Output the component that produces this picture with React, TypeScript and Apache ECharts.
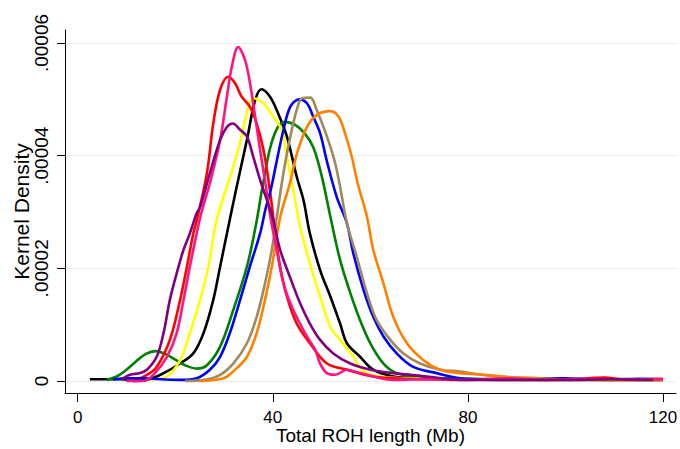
import React, { useEffect, useRef } from "react";
import * as echarts from "echarts";

// x = Total ROH length (Mb), y = kernel density in units of 1e-5
const greenCurve = [[6,0.02],[8,0.08],[10,0.2],[12,0.35],[14,0.48],[15.9,0.53],[18,0.48],[20,0.38],[22,0.28],[24.4,0.22],[26.5,0.28],[29.2,0.61],[31.9,1.26],[34.7,2.03],[36.5,2.75],[38,3.5],[39.5,4.15],[41,4.5],[42.5,4.6],[44.5,4.55],[46.5,4.4],[48.3,4.15],[50,3.65],[51.8,2.92],[53.8,2.15],[55.9,1.56],[57.9,1.08],[60,0.67],[62.7,0.31],[65.4,0.14],[70,0.07],[80,0.04],[90,0.03],[100,0.03],[110,0.02],[120,0.02]];
const blackCurve = [[2.5,0.03],[6,0.03],[9,0.03],[12,0.0],[14,0.02],[16.2,0.08],[18.5,0.18],[21,0.31],[23.7,0.49],[25.8,0.85],[27.8,1.44],[29.2,2.03],[30.6,2.62],[32.6,3.45],[34.7,4.28],[36.4,4.99],[37.7,5.18],[39.4,5.05],[41.1,4.75],[42.9,4.34],[44.9,3.63],[46.3,3.21],[47.6,2.62],[49.7,1.97],[51.8,1.5],[53.8,1.02],[55.2,0.67],[57.9,0.43],[60.6,0.2],[64.7,0.08],[70,0.05],[80,0.03],[90,0.02],[100,0.02],[110,0.02],[120,0.02]];
const yellowCurve = [[15,0.02],[18.3,0.08],[21,0.37],[23,0.85],[25.1,1.44],[26.8,2.03],[27.8,2.55],[28.5,2.86],[29.9,3.27],[31.9,3.8],[33.6,4.34],[35,4.87],[36,5.02],[38.1,4.93],[40.1,4.69],[41.8,4.46],[42.9,3.98],[44.2,3.39],[45.6,2.74],[47.6,2.09],[49.7,1.5],[51.8,0.96],[53.8,0.73],[56.5,0.43],[58.6,0.17],[62,0.08],[70,0.04],[80,0.03],[90,0.02],[100,0.02],[110,0.02],[120,0.02]];
const redCurve = [[10,0.02],[11.4,0.02],[14,0.1],[16.2,0.25],[18.9,0.73],[21,1.44],[22.4,2.03],[23.7,2.62],[24.4,2.85],[26.5,3.69],[27.8,4.57],[29.2,5.17],[30.9,5.4],[32.3,5.28],[33.6,5.05],[35.3,4.87],[36.7,4.57],[38.1,4.1],[39.4,3.39],[40.5,2.62],[41.5,2.03],[42.9,1.5],[44.9,1.02],[47.6,0.67],[51.1,0.31],[55.2,0.2],[60.6,0.08],[65,0.05],[70,0.03],[80,0.03],[90,0.04],[100,0.03],[108,0.06],[112,0.03],[120,0.04]];
const blueCurve = [[7.3,0.03],[10,0.05],[14,0.05],[17,0.03],[21,0.02],[24.4,0.05],[27.1,0.2],[29.2,0.43],[31.2,0.85],[33.3,1.44],[35.3,2.03],[37.4,2.62],[38.5,3.05],[39.6,3.4],[40.8,3.9],[42.2,4.46],[43.6,4.87],[45.4,5.0],[47,4.93],[48.3,4.69],[49.7,4.4],[51.1,3.9],[53.1,3.27],[55.2,2.8],[56.5,2.27],[58.6,1.62],[60.6,1.14],[62.7,0.79],[65.4,0.49],[68.8,0.25],[73.6,0.14],[78.4,0.05],[85,0.03],[90,0.04],[95,0.05],[100,0.05],[105,0.03],[110,0.03],[115,0.04],[120,0.03]];
const tanCurve = [[22,0.0],[26,0.02],[29.2,0.11],[31.9,0.31],[34.7,0.67],[36.7,1.14],[38.4,1.73],[39.8,2.33],[40.8,2.9],[42.2,3.7],[43.6,4.34],[44.9,4.81],[46,5.02],[47.7,5.03],[49,4.81],[50.4,4.51],[51.8,4.16],[52.8,3.86],[53.8,3.45],[55.2,2.8],[57.2,2.21],[59.3,1.56],[61.3,1.08],[64.1,0.73],[66.8,0.49],[70.2,0.31],[74.3,0.2],[78.4,0.17],[82,0.12],[86,0.08],[90,0.06],[95,0.05],[100,0.03],[110,0.02],[120,0.02]];
const orangeCurve = [[25,0.0],[29.9,0.05],[31.9,0.17],[34.7,0.43],[36.7,0.85],[38.4,1.44],[39.8,2.03],[41.5,2.9],[43.5,3.51],[45,4.05],[47,4.51],[49,4.72],[51.8,4.79],[53.5,4.69],[54.8,4.4],[56.2,3.98],[57.4,3.51],[59.3,2.92],[60.6,2.33],[62.7,1.73],[64.7,1.14],[67.5,0.67],[70.9,0.37],[74.3,0.2],[78.4,0.14],[82,0.12],[86,0.09],[90,0.06],[95,0.04],[100,0.03],[110,0.02],[120,0.02]];
const pinkCurve = [[10,0.0],[13.3,0.0],[15.5,0.11],[18.3,0.43],[20.3,0.85],[21.7,1.44],[23,2.03],[24.4,2.62],[25.4,3.0],[27.1,3.51],[29.2,4.28],[30.6,5.05],[31.6,5.58],[32.9,5.93],[34.3,5.7],[35.3,5.3],[36.2,4.8],[37.4,4.1],[38.5,3.5],[39.5,2.92],[40.8,2.33],[42.2,1.73],[44.2,1.26],[47,0.79],[48.7,0.55],[49.7,0.31],[51.1,0.14],[52.8,0.11],[55.2,0.2],[57.9,0.14],[60.6,0.08],[64.7,0.02],[70,0.03],[80,0.02],[88,0.05],[95,0.02],[105,0.04],[115,0.02],[120,0.03]];
const purpleCurve = [[9,0.03],[10.7,0.11],[12.8,0.14],[14.2,0.2],[16.2,0.43],[17.6,0.85],[18.9,1.44],[20.3,1.91],[21.7,2.33],[23,2.62],[24.4,2.98],[25.1,3.09],[27.1,3.69],[29.2,4.28],[30.6,4.51],[31.8,4.57],[33.3,4.46],[34.7,4.34],[36,3.98],[37.4,3.57],[38.8,3.21],[40.1,2.86],[41.5,2.33],[43.5,1.85],[45.6,1.38],[47.6,1.02],[49.7,0.73],[52.4,0.49],[55.9,0.31],[60,0.2],[64.7,0.14],[71.6,0.08],[78.4,0.02],[90,0.02],[100,0.02],[110,0.03],[118,0.02]];

const curves = [
  { name: "black", data: blackCurve, color: "#000000" },
  { name: "green", data: greenCurve, color: "#008000" },
  { name: "yellow", data: yellowCurve, color: "#ffff00" },
  { name: "red", data: redCurve, color: "#ff0000" },
  { name: "blue", data: blueCurve, color: "#0000ff" },
  { name: "tan", data: tanCurve, color: "#a08a5c" },
  { name: "orange", data: orangeCurve, color: "#ff8000" },
  { name: "pink", data: pinkCurve, color: "#ff1482" },
  { name: "purple", data: purpleCurve, color: "#800080" },
];

const xTicks = [0, 40, 80, 120];
const yTicks = [0, 0.00002, 0.00004, 0.00006];
const DENSITY_UNIT = 1e-5;

const FONT = "'Liberation Sans', Arial, Helvetica, sans-serif";

export default function App() {
  const ref = useRef<HTMLDivElement>(null);
  useEffect(() => {
    if (!ref.current) return;
    const chart = echarts.init(ref.current, null, { renderer: "svg" });
    chart.setOption({
      animation: false,
      backgroundColor: "#ffffff",
      grid: { left: 65, right: 4, top: 30, bottom: 56, containLabel: false, outerBoundsMode: "none" },
      xAxis: {
        type: "value",
        min: -2.6,
        max: 122.67,
        name: "Total ROH length (Mb)",
        nameLocation: "middle",
        nameMoveOverlap: false,
        nameGap: 33,
        nameTextStyle: { fontFamily: FONT, fontSize: 19, color: "#000" },
        axisLine: { show: true, onZero: false, lineStyle: { color: "#000", width: 1 } },
        axisTick: { show: true, length: 9, customValues: xTicks, lineStyle: { color: "#000" } },
        axisLabel: { customValues: xTicks, margin: 16, fontFamily: FONT, fontSize: 17, color: "#000" },
        splitLine: { show: false },
      },
      yAxis: {
        type: "value",
        min: -0.213 * DENSITY_UNIT,
        max: 6.231 * DENSITY_UNIT,
        name: "Kernel Density",
        nameLocation: "middle",
        nameMoveOverlap: false,
        nameGap: 33,
        nameTextStyle: { fontFamily: FONT, fontSize: 21, color: "#000" },
        axisLine: { show: true, onZero: false, lineStyle: { color: "#000", width: 1 } },
        axisTick: { show: true, length: 8, customValues: yTicks, lineStyle: { color: "#000" } },
        axisLabel: {
          customValues: yTicks,
          rotate: 90,
          margin: 14,
          fontFamily: FONT,
          fontSize: 19,
          color: "#000",
          formatter: (v: number) => (Math.abs(v) < 1e-12 ? "0" : v.toFixed(5).replace(/^0/, "")),
        },
        splitLine: { show: true, lineStyle: { color: "#e4eef0", width: 1 } },
      },
      series: curves.map((c) => ({
        type: "line",
        name: c.name,
        data: c.data.map(([x, y]) => [x, y * DENSITY_UNIT]),
        showSymbol: false,
        smooth: 0.35,
        lineStyle: { color: c.color, width: 2.6 },
        itemStyle: { color: c.color },
      })),
    });
    return () => chart.dispose();
  }, []);
  return <div ref={ref} style={{ width: 680, height: 449, position: "fixed", left: 0, top: 0 }} />;
}
